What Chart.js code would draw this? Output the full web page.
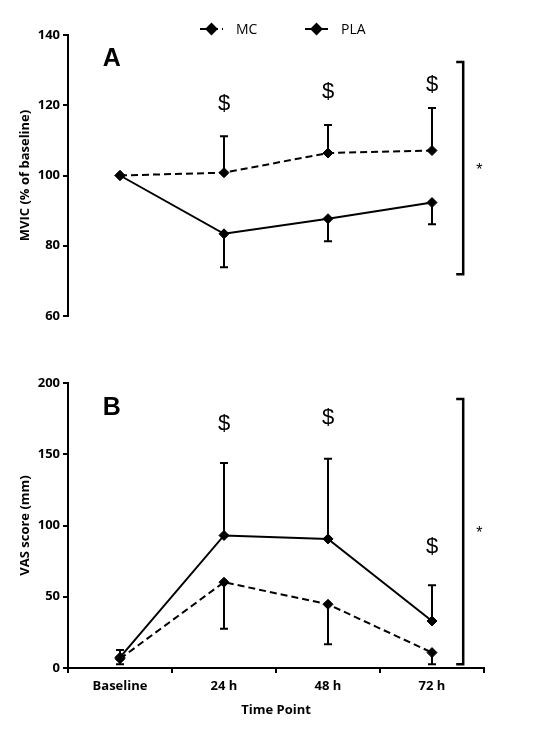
<!DOCTYPE html>
<html>
<head>
<meta charset="utf-8">
<script src="https://cdn.jsdelivr.net/npm/chart.js@4.4.1/dist/chart.umd.min.js"></script>
<style>
  html, body { margin: 0; padding: 0; background: #fff; }
  #wrap { position: relative; width: 534px; height: 743px; }
  canvas { position: absolute; left: 0; }
  #chartA { top: 0; }
  #chartB { top: 340px; }
</style>
</head>
<body>
<div id="wrap">
  <canvas id="chartA" width="534" height="340"></canvas>
  <canvas id="chartB" width="534" height="403"></canvas>
</div>
<script>
// data
const timePoints = ['Baseline', '24 h', '48 h', '72 h'];

const mvicMC = [100, 100.8, 106.4, 107.1];
const mvicMCErr = [0, 10.4, 8.0, 12.1];      // drawn upwards
const mvicPLA = [100, 83.4, 87.7, 92.3];
const mvicPLAErr = [0, 9.5, 6.4, 6.2];       // drawn downwards
const mvicTicks = [60, 80, 100, 120, 140];
const mvicDollar = [null, 120.4, 123.7, 125.9];
const mvicBracket = [71.9, 132.3];

const vasMC = [6.5, 60.2, 44.7, 10.8];
const vasMCErr = [3.8, 32.6, 28.1, 8.2];     // drawn downwards
const vasPLA = [7.5, 93.0, 90.6, 33.0];
const vasPLAErr = [5.1, 50.8, 56.2, 25.1];   // drawn upwards
const vasTicks = [0, 50, 100, 150, 200];
const vasDollar = [null, 171.4, 175.4, 85.2];
const vasBracket = [2.6, 188.8];

const tickFont = { family: 'Open Sans', size: 13, weight: 'bold' };

// error bars, $ marks, bracket and panel letter, all placed through the scales
function makeOverlay(cfg) {
    return {
        id: 'overlay' + cfg.letter,
        beforeDatasetsDraw(chart) {
            const ctx = chart.ctx;
            const x = chart.scales.x, y = chart.scales.y;
            ctx.save();
            ctx.strokeStyle = '#000';
            ctx.lineWidth = 2;
            cfg.bars.forEach(b => {
                b.mean.forEach((m, i) => {
                    const e = b.err[i];
                    if (!e) return;
                    const px = x.getPixelForValue(i);
                    const y0 = y.getPixelForValue(m);
                    const y1 = y.getPixelForValue(m + b.dir * e);
                    ctx.beginPath();
                    ctx.moveTo(px, y0);
                    ctx.lineTo(px, y1);
                    ctx.moveTo(px - 4, y1);
                    ctx.lineTo(px + 4, y1);
                    ctx.stroke();
                });
            });
            ctx.restore();
        },
        afterDraw(chart) {
            const ctx = chart.ctx;
            const x = chart.scales.x, y = chart.scales.y;
            ctx.save();
            ctx.fillStyle = '#000';
            ctx.strokeStyle = '#000';
            ctx.textAlign = 'center';
            ctx.textBaseline = 'middle';

            // $ marks
            ctx.font = '22px "Liberation Sans"';
            cfg.dollar.forEach((v, i) => {
                if (v === null) return;
                ctx.fillText('$', x.getPixelForValue(i), y.getPixelForValue(v));
            });

            // bracket with asterisk
            const bx = x.getPixelForValue(3.3);
            const bt = y.getPixelForValue(cfg.bracket[1]);
            const bb = y.getPixelForValue(cfg.bracket[0]);
            ctx.lineWidth = 2.5;
            ctx.beginPath();
            ctx.moveTo(bx - 7, bt);
            ctx.lineTo(bx, bt);
            ctx.lineTo(bx, bb);
            ctx.lineTo(bx - 7, bb);
            ctx.stroke();
            ctx.font = '16px "Liberation Sans"';
            ctx.fillText('*', x.getPixelForValue(3.455), (bt + bb) / 2 + 2);

            // panel letter
            ctx.font = 'bold 25px "Liberation Sans"';
            ctx.fillText(cfg.letter, x.getPixelForValue(-0.08), y.getPixelForValue(cfg.letterY));

            // legend (top panel only)
            if (cfg.legend) {
                const ly = 29;
                ctx.lineWidth = 2;
                ctx.font = '14px "Open Sans"';
                ctx.textAlign = 'left';
                chart.data.datasets.forEach((ds, k) => {
                    const x0 = k === 0 ? 200 : 305;
                    ctx.setLineDash(ds.borderDash || []);
                    ctx.beginPath();
                    ctx.moveTo(x0, ly);
                    ctx.lineTo(x0 + 23, ly);
                    ctx.stroke();
                    ctx.setLineDash([]);
                    Chart.helpers.drawPoint(ctx, { pointStyle: 'rectRot', radius: 5, rotation: 0, borderWidth: 1 }, x0 + 11.5, ly);
                    ctx.fill();
                    ctx.fillText(ds.label, x0 + 36, ly + 1);
                });
            }
            ctx.restore();
        }
    };
}

function panelOptions(ticks, yTitle, showX, padding) {
    return {
        responsive: false,
        animation: false,
        layout: { padding: padding },
        plugins: { legend: { display: false }, tooltip: { enabled: false } },
        scales: {
            x: {
                type: 'category',
                offset: true,
                display: showX,
                grid: { offset: true, drawOnChartArea: false, drawTicks: true, tickLength: 5, color: '#000', lineWidth: 2 },
                border: { display: true, color: '#000', width: 2 },
                ticks: { color: '#000', font: tickFont, padding: 5, maxRotation: 0 },
                title: { display: true, text: 'Time Point', color: '#000', font: tickFont, padding: { top: 2, bottom: 10 } },
                afterFit: s => { s.height = showX ? 60 : 0; }
            },
            y: {
                min: ticks[0],
                max: ticks[ticks.length - 1],
                grid: { drawOnChartArea: false, drawTicks: true, tickLength: 5, color: '#000', lineWidth: 2 },
                border: { display: true, color: '#000', width: 2 },
                ticks: { color: '#000', font: tickFont, padding: 3, stepSize: ticks[1] - ticks[0] },
                title: { display: true, text: yTitle, color: '#000', font: tickFont, padding: { top: 17, bottom: 0 } },
                afterFit: s => { s.width = 68; }
            }
        }
    };
}

function lineSets(mc, pla) {
    const common = {
        borderColor: '#000',
        backgroundColor: '#000',
        borderWidth: 2,
        pointStyle: 'rectRot',
        pointRadius: 5,
        pointBorderWidth: 1,
        tension: 0,
        fill: false,
        clip: false
    };
    return [
        Object.assign({ label: 'MC', data: mc, borderDash: [7, 4] }, common),
        Object.assign({ label: 'PLA', data: pla }, common)
    ];
}

new Chart(document.getElementById('chartA').getContext('2d'), {
    type: 'line',
    data: { labels: timePoints, datasets: lineSets(mvicMC, mvicPLA) },
    options: panelOptions(mvicTicks, 'MVIC (% of baseline)', false, { top: 35, bottom: 24, left: 0, right: 50 }),
    plugins: [makeOverlay({
        letter: 'A', letterY: 133, legend: true,
        dollar: mvicDollar, bracket: mvicBracket,
        bars: [{ mean: mvicMC, err: mvicMCErr, dir: 1 }, { mean: mvicPLA, err: mvicPLAErr, dir: -1 }]
    })]
});

new Chart(document.getElementById('chartB').getContext('2d'), {
    type: 'line',
    data: { labels: timePoints, datasets: lineSets(vasMC, vasPLA) },
    options: panelOptions(vasTicks, 'VAS score (mm)', true, { top: 43, bottom: 15, left: 0, right: 50 }),
    plugins: [makeOverlay({
        letter: 'B', letterY: 182.5, legend: false,
        dollar: vasDollar, bracket: vasBracket,
        bars: [{ mean: vasMC, err: vasMCErr, dir: -1 }, { mean: vasPLA, err: vasPLAErr, dir: 1 }]
    })]
});
</script>
</body>
</html>
